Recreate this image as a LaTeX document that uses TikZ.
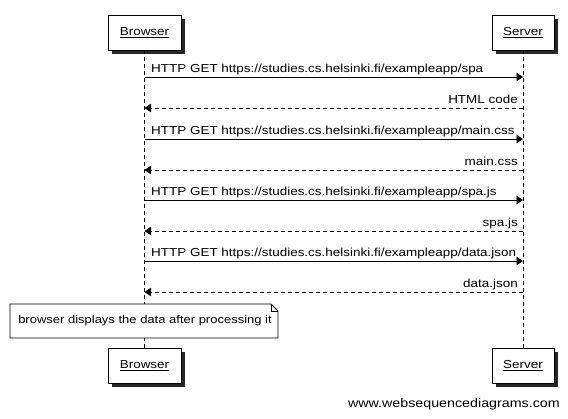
\documentclass[tikz,border=0pt]{standalone}
\usepackage{fontspec}
\setmainfont{Liberation Sans}[FakeStretch=1.16]
\usetikzlibrary{arrows.meta}
\begin{document}
\begin{tikzpicture}[x=1pt,y=-1pt,
  font=\fontsize{11.6}{14}\selectfont,
  actor/.style={draw=black,fill=white,line width=0.8pt,minimum width=73pt,minimum height=35pt,inner sep=0pt},
  shadowbox/.style={fill=black!85,draw=none,minimum width=73pt,minimum height=35pt,inner sep=0pt},
  life/.style={draw=black,line width=0.8pt,dash pattern=on 4pt off 3pt},
  req/.style={draw=black,line width=0.8pt,-{Triangle[length=6.5pt,width=8.5pt]}},
  resp/.style={draw=black,line width=0.8pt,dash pattern=on 4pt off 3pt,-{Triangle[length=6.5pt,width=8.5pt]}},
  lbl/.style={inner sep=0pt},
  notebox/.style={inner sep=0pt,font=\fontsize{11.2}{14}\selectfont}
]
\useasboundingbox[fill=white] (0,0) rectangle (568,418);

% participant boxes with drop shadows
\node[shadowbox,minimum width=73pt] at (148.5,36.5) {};
\node[actor] (bt) at (144.5,32.5) {\underline{Browser}};
\node[shadowbox,minimum width=62pt] at (527,36.5) {};
\node[actor,minimum width=62pt] (st) at (523,32.5) {\underline{Server}};
\node[shadowbox,minimum width=73pt] at (148.5,369.5) {};
\node[actor] (bb) at (144.5,365.5) {\underline{Browser}};
\node[shadowbox,minimum width=62pt] at (527,369.5) {};
\node[actor,minimum width=62pt] (sb) at (523,365.5) {\underline{Server}};

% lifelines
\draw[life] (bt) -- (bb);
\draw[life] (st) -- (sb);

% message anchor points on the lifelines
\foreach \i/\y in {1/77,2/108,3/139,4/170,5/200,6/231,7/261,8/292}{
  \coordinate (b\i) at (144.5,\y);
  \coordinate (s\i) at (523,\y);
}

% requests and responses
\draw[req] (b1) -- (s1);
\node[lbl,anchor=base west] (m1) at (151,72) {HTTP GET https://studies.cs.helsinki.fi/exampleapp/spa};
\draw[resp] (s2) -- (b2);
\node[lbl,anchor=base east] (m2) at (518,103) {HTML code};
\draw[req] (b3) -- (s3);
\node[lbl,anchor=base west] (m3) at (151,134) {HTTP GET https://studies.cs.helsinki.fi/exampleapp/main.css};
\draw[resp] (s4) -- (b4);
\node[lbl,anchor=base east] (m4) at (518,165) {main.css};
\draw[req] (b5) -- (s5);
\node[lbl,anchor=base west] (m5) at (151,195) {HTTP GET https://studies.cs.helsinki.fi/exampleapp/spa.js};
\draw[resp] (s6) -- (b6);
\node[lbl,anchor=base east] (m6) at (518,226) {spa.js};
\draw[req] (b7) -- (s7);
\node[lbl,anchor=base west] (m7) at (151,256) {HTTP GET https://studies.cs.helsinki.fi/exampleapp/data.json};
\draw[resp] (s8) -- (b8);
\node[lbl,anchor=base east] (m8) at (518,287) {data.json};

% note with folded corner
\draw[fill=white,line width=0.8pt] (10,304) -- (271,304) -- (278,311) -- (278,338) -- (10,338) -- cycle;
\draw[line width=0.6pt] (271,304) -- (271,311) -- (278,311);
\node[notebox] (note) at (145,321) {browser displays the data after processing it};

% footer
\node[lbl,anchor=base east,font=\fontsize{12.3}{14}\selectfont] (wsd) at (560,407) {www.websequencediagrams.com};
\end{tikzpicture}
\end{document}
